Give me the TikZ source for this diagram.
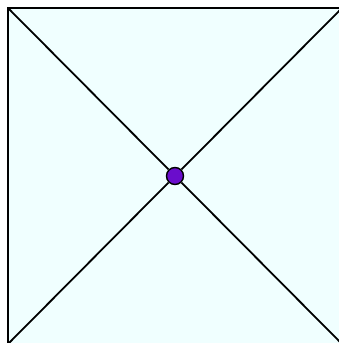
\documentclass[tikz,border=0pt]{standalone}
\definecolor{azurefill}{HTML}{F0FFFF}
\definecolor{dotfill}{HTML}{6A0DCC}
\tikzset{edge/.style={draw=black,line width=1.8pt},
  dot/.style={circle,draw=black,line width=1.4pt,fill=dotfill,minimum size=17pt,inner sep=0pt}}
\begin{document}
\begin{tikzpicture}[x=1pt,y=-1pt]
\useasboundingbox (0,0) rectangle (339,343);
\clip (0,0) rectangle (339,343);
\coordinate (tl) at (8,8);
\coordinate (tr) at (342,8);
\coordinate (bl) at (8,344);
\coordinate (br) at (342,344);
\fill[azurefill] (tl) rectangle (br);
\draw[edge] (tl) -- (tr) -- (br) -- (bl) -- cycle;
\node[dot] (c) at (175,176) {};
\draw[edge] (tl) -- (c) -- (br);
\draw[edge] (tr) -- (c) -- (bl);
\end{tikzpicture}
\end{document}
